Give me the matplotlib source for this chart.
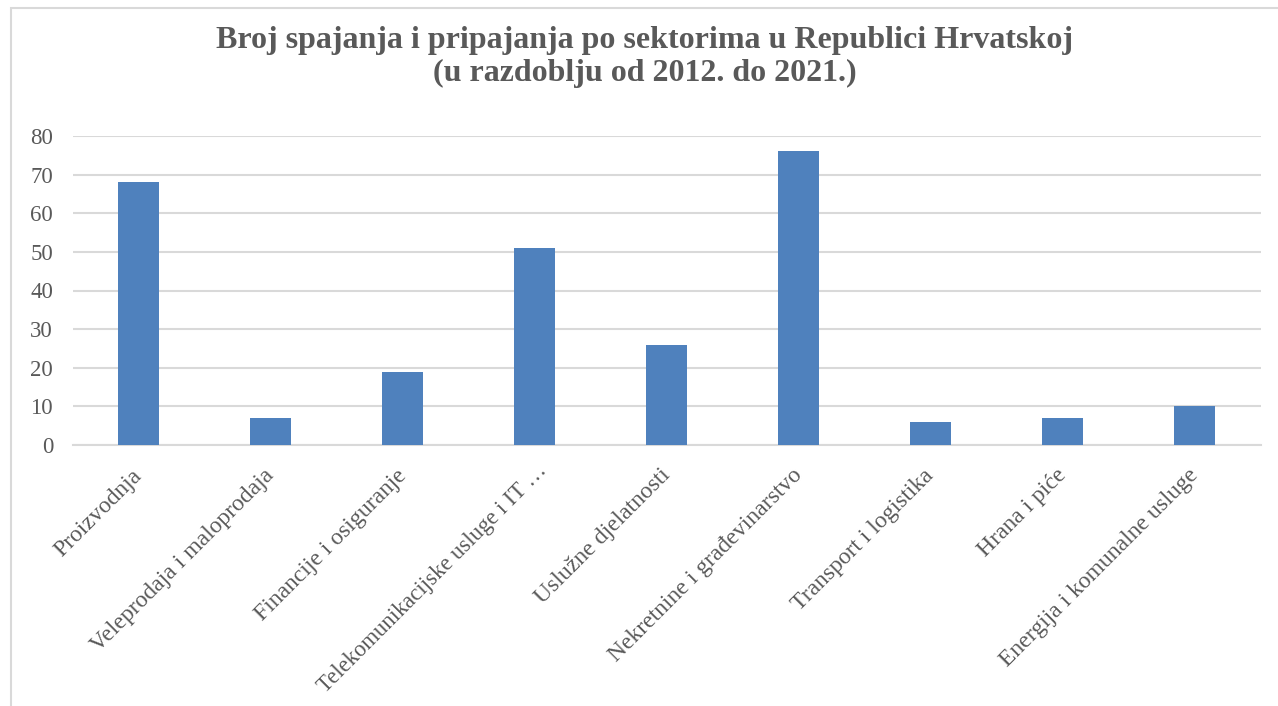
import matplotlib.pyplot as plt
from matplotlib.patches import Rectangle
from matplotlib.transforms import ScaledTranslation

# data
sektori = ["Proizvodnja", "Veleprodaja i maloprodaja", "Financije i osiguranje",
           "Telekomunikacijske usluge i IT …", "Uslužne djelatnosti",
           "Nekretnine i građevinarstvo", "Transport i logistika", "Hrana i piće",
           "Energija i komunalne usluge"]
broj = [68, 7, 19, 51, 26, 76, 6, 7, 10]
y_ticks = [0, 10, 20, 30, 40, 50, 60, 70, 80]

plt.rcParams['font.family'] = ['Liberation Serif', 'DejaVu Serif']
grey = "#595959"

W, H = 1278, 706
fig = plt.figure(figsize=(W / 100, H / 100), dpi=100)
ax = fig.add_axes([72.5 / W, 1 - 445 / H, (1260.5 - 72.5) / W, (445 - 136) / H])

x = list(range(len(sektori)))
ax.bar(x, broj, width=0.31, color="#4F81BD", zorder=3)
ax.set_xlim(-0.5, len(sektori) - 0.5)
ax.set_ylim(0, 80)
ax.set_yticks(y_ticks)
ax.set_yticklabels([str(v) for v in y_ticks], fontsize=16.5, color=grey)
ax.set_xticks(x)
ax.set_xticklabels([])
ax.tick_params(axis="both", length=0)
ax.tick_params(axis="y", pad=14)

# slanted category labels, placed by hand under each bar
for i, name in zip(x, sektori):
    dx, dy, fs = -0.07, -0.20, 17
    if name.endswith("…"):
        # the truncated label sits a bit higher/right in the original
        dx, dy, fs = 0.02, -0.15, 16.3
    offs = ax.get_xaxis_transform() + ScaledTranslation(dx, dy, fig.dpi_scale_trans)
    ax.text(i, 0, name, transform=offs, rotation=45, ha="right", va="top",
            rotation_mode="anchor", fontsize=fs, color=grey)

ax.grid(axis="y", color="#D9D9D9", linewidth=1.5, zorder=0)
for s in ["left", "right", "top"]:
    ax.spines[s].set_visible(False)
ax.spines["bottom"].set_color("#D9D9D9")
ax.spines["bottom"].set_linewidth(1.5)

fig.text(645 / W, 1 - 57 / H,
         "Broj spajanja i pripajanja po sektorima u Republici Hrvatskoj\n(u razdoblju od 2012. do 2021.)",
         ha="center", va="center", fontsize=23, fontweight="bold", color=grey,
         linespacing=1.2)

# chart frame (cut off on the right and bottom)
fig.patches.append(Rectangle((11 / W, -0.1), 1.2, 1 - 8 / H + 0.1,
                             transform=fig.transFigure, fill=False,
                             edgecolor="#D9D9D9", linewidth=1.5))

fig.savefig("out.png", dpi=100)
